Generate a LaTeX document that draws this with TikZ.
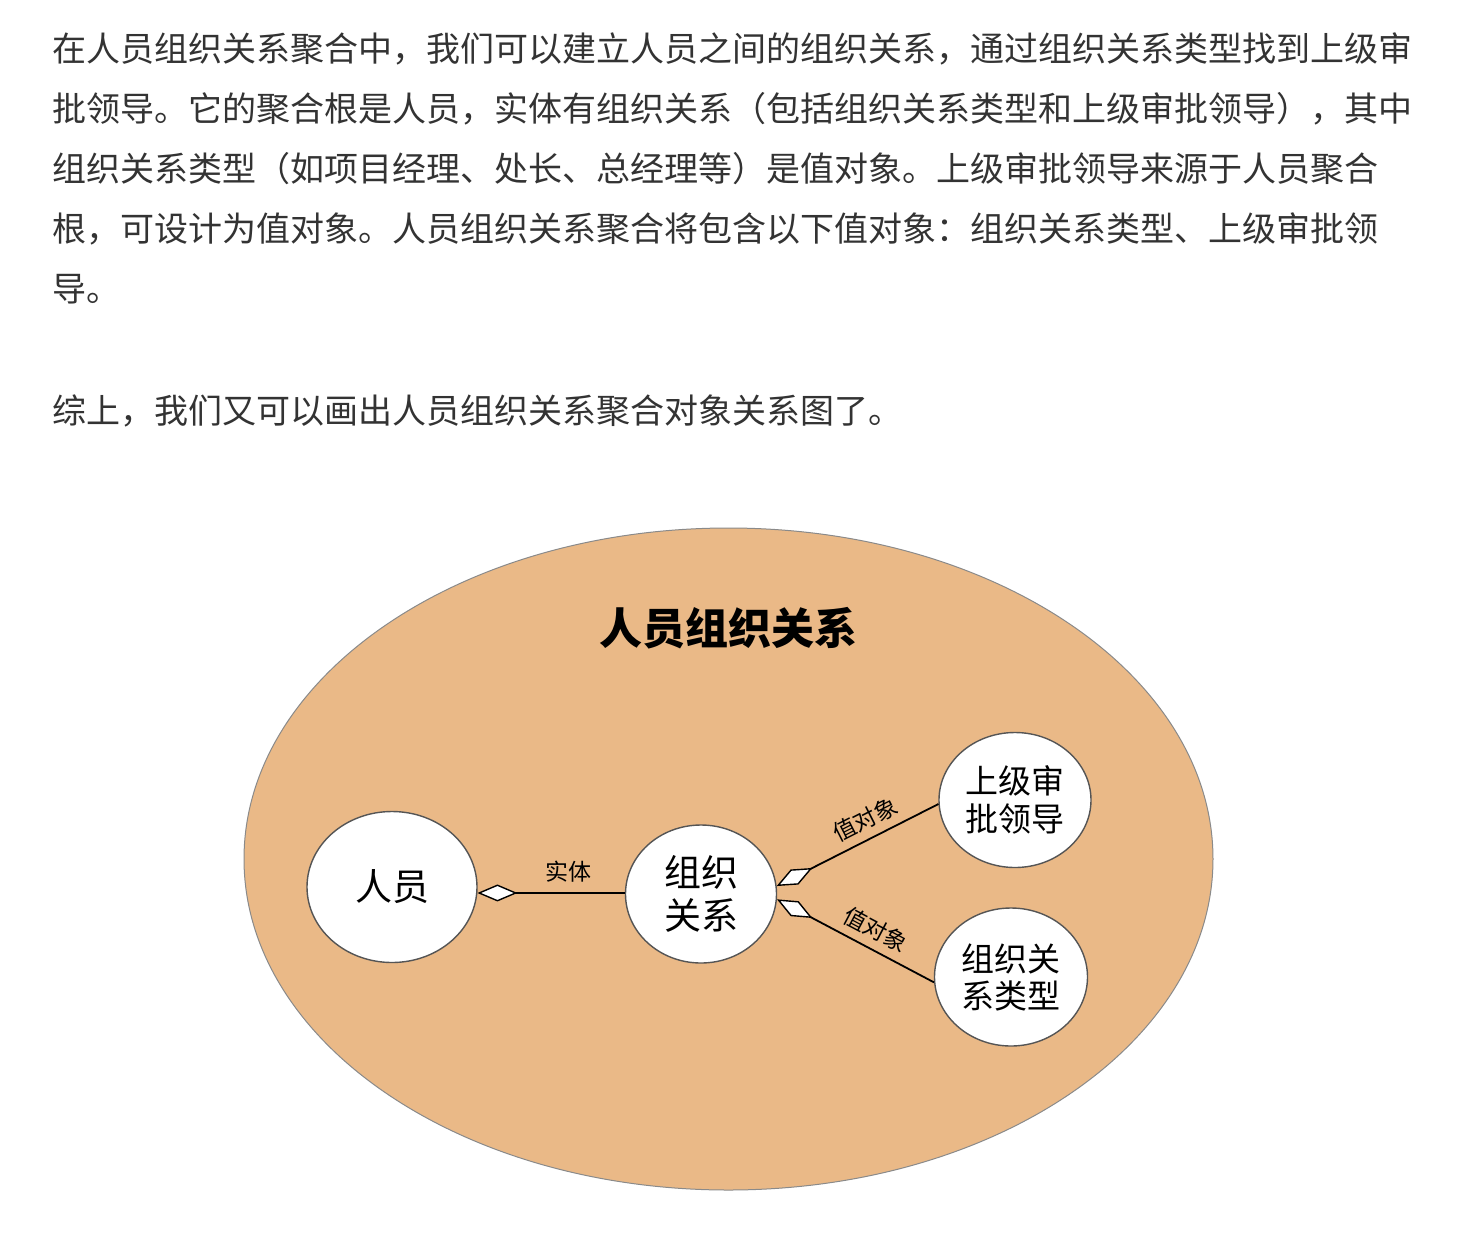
\documentclass[tikz,border=0pt]{standalone}
\usepackage{fontspec}
\setmainfont{Noto Sans CJK SC}
\usetikzlibrary{arrows.meta,shapes.geometric}
\definecolor{bodytext}{HTML}{333333}
\definecolor{peach}{HTML}{EAB987}
\definecolor{rimgray}{HTML}{8A8A8A}
\definecolor{circrim}{HTML}{555555}
\def\spr#1{#1\sprnext}
\def\sprnext#1{\ifx\relax#1\else\hfill#1\expandafter\sprnext\fi}
\begin{document}
\begin{tikzpicture}[x=0.5pt,y=0.5pt,
  para/.style={anchor=base west,inner sep=0pt,text=bodytext,font=\fontsize{17pt}{20pt}\selectfont},
  bubble/.style={draw=circrim,line width=0.7pt,fill=white,ellipse,inner sep=0pt,align=center},
  conn/.style={draw=black,line width=0.9pt},
  dia/.style={{Diamond[length=20pt,width=8.5pt,fill=white,line width=0.7pt]}-},
  elabel/.style={font=\fontsize{11.5pt}{12pt}\selectfont,inner sep=0pt}
]
\useasboundingbox (0,0) rectangle (1480,-1244);
\fill[white] (0,0) rectangle (1480,-1244);

% paragraph text
\node[para] (l1) at (52,-61) {\hbox to 679pt{\spr 在人员组织关系聚合中，我们可以建立人员之间的组织关系，通过组织关系类型找到上级审\relax}};
\node[para] (l2) at (52,-121) {批领导。它的聚合根是人员，实体有组织关系（包括组织关系类型和上级审批领导），其中};
\node[para] (l3) at (52,-181) {组织关系类型（如项目经理、处长、总经理等）是值对象。上级审批领导来源于人员聚合};
\node[para] (l4) at (52,-241) {根，可设计为值对象。人员组织关系聚合将包含以下值对象：组织关系类型、上级审批领};
\node[para] (l5) at (52,-301) {导。};
\node[para] (l6) at (52,-423) {综上，我们又可以画出人员组织关系聚合对象关系图了。};

% aggregate ellipse
\node[ellipse,draw=rimgray,line width=0.5pt,fill=peach,minimum width=484.5pt,minimum height=331pt,inner sep=0pt] (agg) at (728.5,-859) {};
\node[font=\fontsize{21.5pt}{24pt}\selectfont\bfseries,inner sep=0pt] (title) at (728,-628) {人员组织关系};

% entity / value object bubbles
\node[bubble,minimum width=85pt,minimum height=75.5pt,font=\fontsize{18.5pt}{21.5pt}\selectfont] (ry) at (392,-887) {人员};
\node[bubble,minimum width=75.5pt,minimum height=69pt,font=\fontsize{18.5pt}{21.5pt}\selectfont] (zz) at (701,-894) {组织\\关系};
\node[bubble,minimum width=76pt,minimum height=67.5pt,font=\fontsize{16.5pt}{19pt}\selectfont] (sj) at (1015,-800) {上级审\\批领导};
\node[bubble,minimum width=76.5pt,minimum height=69pt,font=\fontsize{16.5pt}{18.5pt}\selectfont] (lx) at (1011,-977) {组织关\\系类型};

% connectors
\draw[conn,dia] (ry.-4) -- (ry.-4 -| zz.west) node[pos=0.62,above=5pt,elabel] {实体};
\draw[conn,dia] (zz.6) -- (sj.183) node[pos=0.6,sloped,above=4pt,elabel] {值对象};
\draw[conn,dia] (zz.-4) -- (lx.184) node[pos=0.57,sloped,above=4pt,elabel] {值对象};
\end{tikzpicture}
\end{document}
